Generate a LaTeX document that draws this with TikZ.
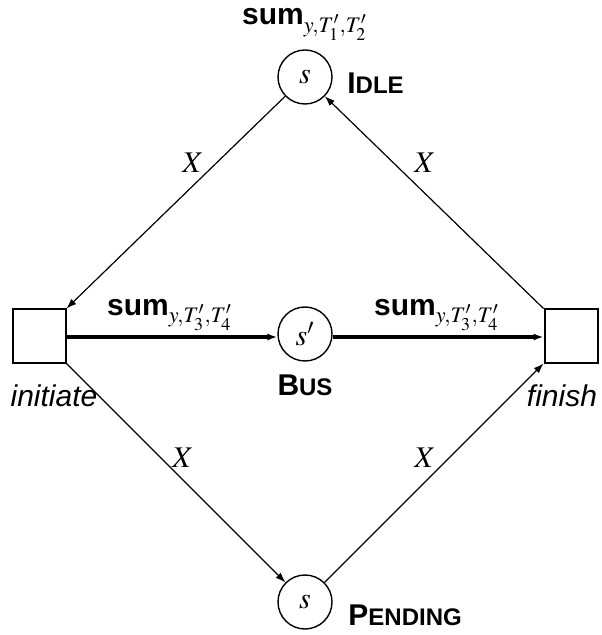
\documentclass[tikz,border=0pt]{standalone}
\usepackage{mathptmx}
\usepackage{fontspec}
\setmainfont{Liberation Serif}
\setsansfont{Liberation Sans}
\usetikzlibrary{arrows.meta}
\newcommand{\sumlbl}[2]{\textsf{\bfseries sum}$_{y,T'_{#1},T'_{#2}}$}
\newcommand{\scname}[2]{\textsf{\bfseries #1{\fontsize{12}{14}\selectfont #2}}}
\begin{document}
\begin{tikzpicture}[x=0.5pt, y=-0.5pt, font=\fontsize{15}{17}\selectfont,
  >={Latex[length=5pt,width=3.6pt]}]
\useasboundingbox (0,0) rectangle (601,635);
\node[circle, draw, line width=0.7pt, minimum size=27pt, inner sep=0pt] (idle) at (305,77){$s$};
\node[circle, draw, line width=0.7pt, minimum size=27pt, inner sep=0pt] (bus) at (305,334){$s'$};
\node[circle, draw, line width=0.7pt, minimum size=27pt, inner sep=0pt] (pending) at (305,602){$s$};
\node[rectangle, draw, line width=1pt, minimum size=26.5pt, inner sep=0pt] (initiate) at (39,336){};
\node[rectangle, draw, line width=1pt, minimum size=26.5pt, inner sep=0pt] (finish) at (571,336){};
\draw[->, line width=0.6pt](idle) -- (initiate.north east);
\draw[->, line width=0.6pt](finish.north west) -- (idle);
\draw[->, line width=0.6pt](initiate.south east) -- (pending);
\draw[->, line width=0.6pt](pending) -- (finish.south west);
\draw[->, line width=1.6pt](initiate.east |- 0,337) -- (bus.west |- 0,337);
\draw[->, line width=1.6pt](bus.east |- 0,337) -- (finish.west |- 0,337);

\node[anchor=base] (idlesum) at (305,25){\sumlbl{1}{2}};
\node[anchor=base west, inner sep=0pt] (idlename) at (347,94){\scname{I}{DLE}};
\node[anchor=base] (bussum1) at (170,315){\sumlbl{3}{4}};
\node[anchor=base] (bussum2) at (437,315){\sumlbl{3}{4}};
\node[anchor=base] (busname) at (305,395){\scname{B}{US}};
\node[anchor=base west, inner sep=0pt] (pendname) at (348,625){\scname{P}{ENDING}};
\node[anchor=base] (initname) at (54,406){\textsf{\itshape initiate}};
\node[anchor=base] (finname) at (562,406){\textsf{\itshape finish}};
\node (x1) at (193,163){$X$};
\node (x2) at (425,163){$X$};
\node (x3) at (183,458){$X$};
\node (x4) at (425,458){$X$};

\end{tikzpicture}
\end{document}
